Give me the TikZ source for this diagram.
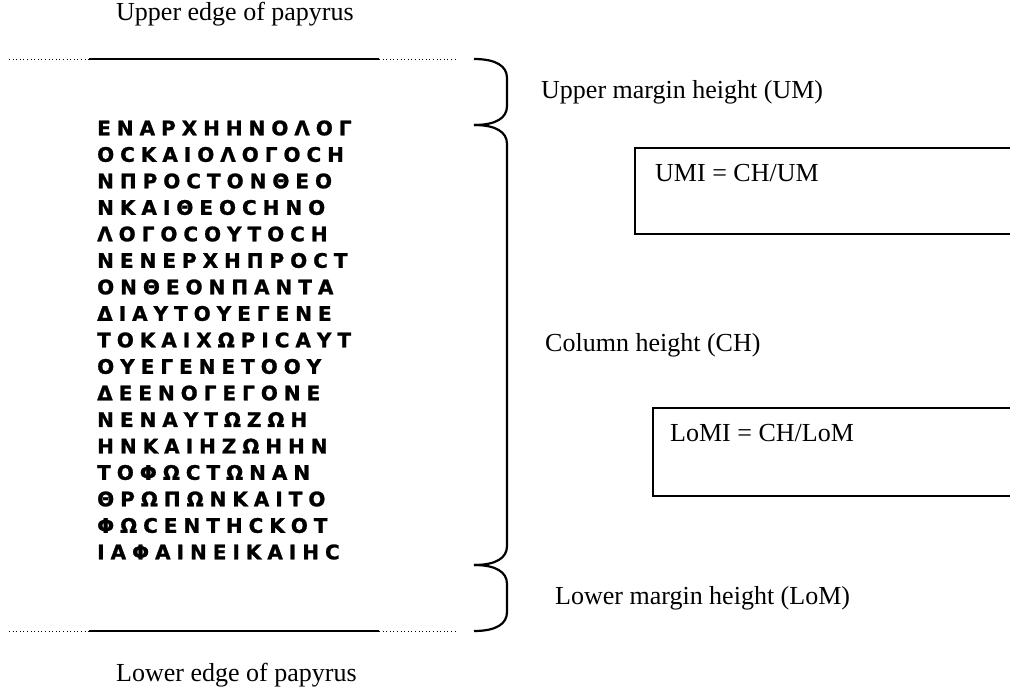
\documentclass[tikz,border=0pt]{standalone}
\usepackage{fontspec}
\setmainfont{Liberation Serif}
\newfontfamily\greekuncial[LetterSpace=30,FakeBold=1.2]{DejaVu Sans Bold}
\begin{document}
\begin{tikzpicture}[x=1pt,y=-1pt,
  lbl/.style={anchor=west,inner sep=0pt,font=\fontsize{26}{30}\selectfont},
  gline/.style={anchor=west,inner sep=0pt,font=\greekuncial\fontsize{20}{23}\selectfont},
  edgesolid/.style={line width=2.2pt},
  edgedot/.style={line width=1pt,dash pattern=on 1pt off 2.6pt},
  bracepath/.style={line width=2.2pt,line join=round},
  formbox/.style={draw,line width=1.5pt,anchor=north west,inner sep=0pt}]
\useasboundingbox (0,0) rectangle (1010,689);
\clip (0,0) rectangle (1010,689);
% edges of papyrus
\coordinate (t0) at (9,59);  \coordinate (t1) at (89,59);
\coordinate (t2) at (379,59); \coordinate (t3) at (455,59);
\coordinate (d0) at (9,631); \coordinate (d1) at (89,631);
\coordinate (d2) at (379,631); \coordinate (d3) at (455,631);
\draw[edgedot] (t0) -- (t1);
\draw[edgesolid] (t1) -- (t2);
\draw[edgedot] (t2) -- (t3);
\draw[edgedot] (d0) -- (d1);
\draw[edgesolid] (d1) -- (d2);
\draw[edgedot] (d2) -- (d3);
\node[lbl] (upperedge) at (116,14) {Upper edge of papyrus};
\node[lbl] (loweredge) at (116,675) {Lower edge of papyrus};
% braces
\coordinate (b0) at (474,59);
\coordinate (b1) at (474,125);
\coordinate (b2) at (474,565);
\coordinate (b3) at (474,631);
\draw[bracepath] (b0) .. controls (496,59) and (507,66) .. (507,78) -- (507,106)
   .. controls (507,118) and (496,125) .. (b1);
\draw[bracepath] (b1) .. controls (496,125) and (507,132) .. (507,144) -- (507,546)
   .. controls (507,558) and (496,565) .. (b2);
\draw[bracepath] (b2) .. controls (496,565) and (507,572) .. (507,584) -- (507,612)
   .. controls (507,624) and (496,631) .. (b3);
\node[lbl] (um) at (541,92) {Upper margin height (UM)};
\node[lbl] (ch) at (545,345) {Column height (CH)};
\node[lbl] (lom) at (555,598) {Lower margin height (LoM)};
% formula boxes
\node[formbox,minimum width=400pt,minimum height=86pt] (umibox) at (634,147) {};
\node[lbl] (umi) at (655,173) {UMI = CH/UM};
\node[formbox,minimum width=400pt,minimum height=88pt] (lomibox) at (652,407) {};
\node[lbl] (lomi) at (670,433) {LoMI = CH/LoM};
% Greek column
\foreach \txt [count=\i] in {ΕΝΑΡΧΗΗΝΟΛΟΓ,ΟϹΚΑΙΟΛΟΓΟϹΗ,ΝΠΡΟϹΤΟΝΘΕΟ,ΝΚΑΙΘΕΟϹΗΝΟ,ΛΟΓΟϹΟΥΤΟϹΗ,ΝΕΝΕΡΧΗΠΡΟϹΤ,ΟΝΘΕΟΝΠΑΝΤΑ,ΔΙΑΥΤΟΥΕΓΕΝΕ,ΤΟΚΑΙΧΩΡΙϹΑΥΤ,ΟΥΕΓΕΝΕΤΟΟΥ,ΔΕΕΝΟΓΕΓΟΝΕ,ΝΕΝΑΥΤΩΖΩΗ,ΗΝΚΑΙΗΖΩΗΗΝ,ΤΟΦΩϹΤΩΝΑΝ,ΘΡΩΠΩΝΚΑΙΤΟ,ΦΩϹΕΝΤΗϹΚΟΤ,ΙΑΦΑΙΝΕΙΚΑΙΗϹ}
  \node[gline] (g\i) at (97,{128+26.5*(\i-1)}) {\txt};
\end{tikzpicture}
\end{document}
